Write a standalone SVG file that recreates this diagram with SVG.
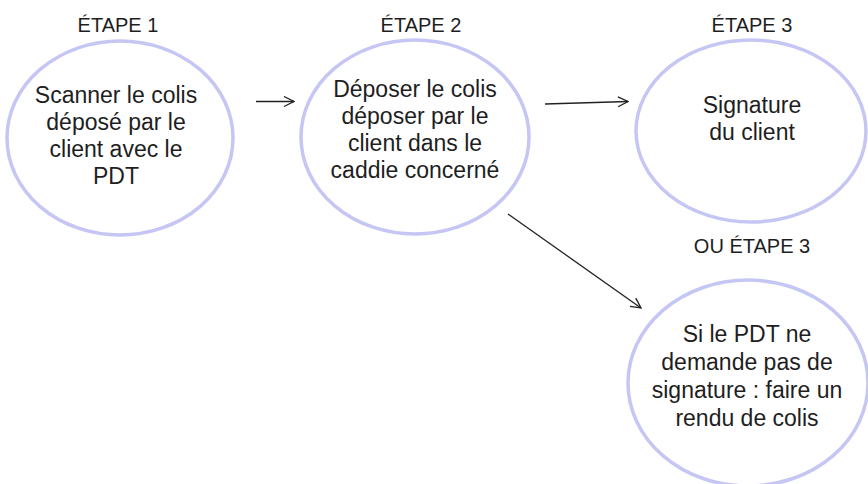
<svg xmlns="http://www.w3.org/2000/svg" width="868" height="484" viewBox="0 0 868 484">
<style>
.c{fill:#fff;stroke:#c6c6f4;stroke-width:3.5}
.t{font-family:"Liberation Sans",Arial,sans-serif;font-size:23px;fill:#1e1e1e;text-anchor:middle}
.h{font-family:"Liberation Sans",Arial,sans-serif;font-size:20px;fill:#1e1e1e;text-anchor:middle}
.a{stroke:#222;stroke-width:1.3;fill:none}
</style>
<defs>
<marker id="arr" viewBox="0 0 12 12" refX="11" refY="6" markerWidth="12" markerHeight="12" markerUnits="userSpaceOnUse" orient="auto">
<path d="M1,1 L11,6 L1,11" fill="none" stroke="#222" stroke-width="1.3"/>
</marker>
</defs>
<rect width="868" height="484" fill="#fff"/>
<g id="labels">
<text class="h" x="118" y="32">ÉTAPE 1</text>
<text class="h" x="421" y="32">ÉTAPE 2</text>
<text class="h" x="752" y="32">ÉTAPE 3</text>
<text class="h" x="752" y="253">OU ÉTAPE 3</text>
</g>
<g id="n1">
<ellipse class="c" cx="120" cy="138" rx="113" ry="97"/>
<text class="t" x="116" y="103">Scanner le colis</text>
<text class="t" x="116" y="130">déposé par le</text>
<text class="t" x="116" y="157">client avec le</text>
<text class="t" x="116" y="184">PDT</text>
</g>
<g id="n2">
<ellipse class="c" cx="415" cy="137" rx="114" ry="97"/>
<text class="t" x="415" y="97">Déposer le colis</text>
<text class="t" x="415" y="124">déposer par le</text>
<text class="t" x="415" y="151">client dans le</text>
<text class="t" x="415" y="178">caddie concerné</text>
</g>
<g id="n3">
<ellipse class="c" cx="751" cy="131" rx="115" ry="91"/>
<text class="t" x="752" y="113">Signature</text>
<text class="t" x="752" y="140">du client</text>
</g>
<g id="n4">
<ellipse class="c" cx="748" cy="383" rx="120" ry="103"/>
<text class="t" x="747" y="342">Si le PDT ne</text>
<text class="t" x="747" y="370">demande pas de</text>
<text class="t" x="747" y="398">signature : faire un</text>
<text class="t" x="747" y="426">rendu de colis</text>
</g>
<g id="connectors">
<line class="a" x1="256" y1="101.5" x2="294" y2="101.5" marker-end="url(#arr)"/>
<line class="a" x1="545" y1="104" x2="628" y2="101.5" marker-end="url(#arr)"/>
<line class="a" x1="508" y1="214" x2="641" y2="308" marker-end="url(#arr)"/>
</g>
</svg>
